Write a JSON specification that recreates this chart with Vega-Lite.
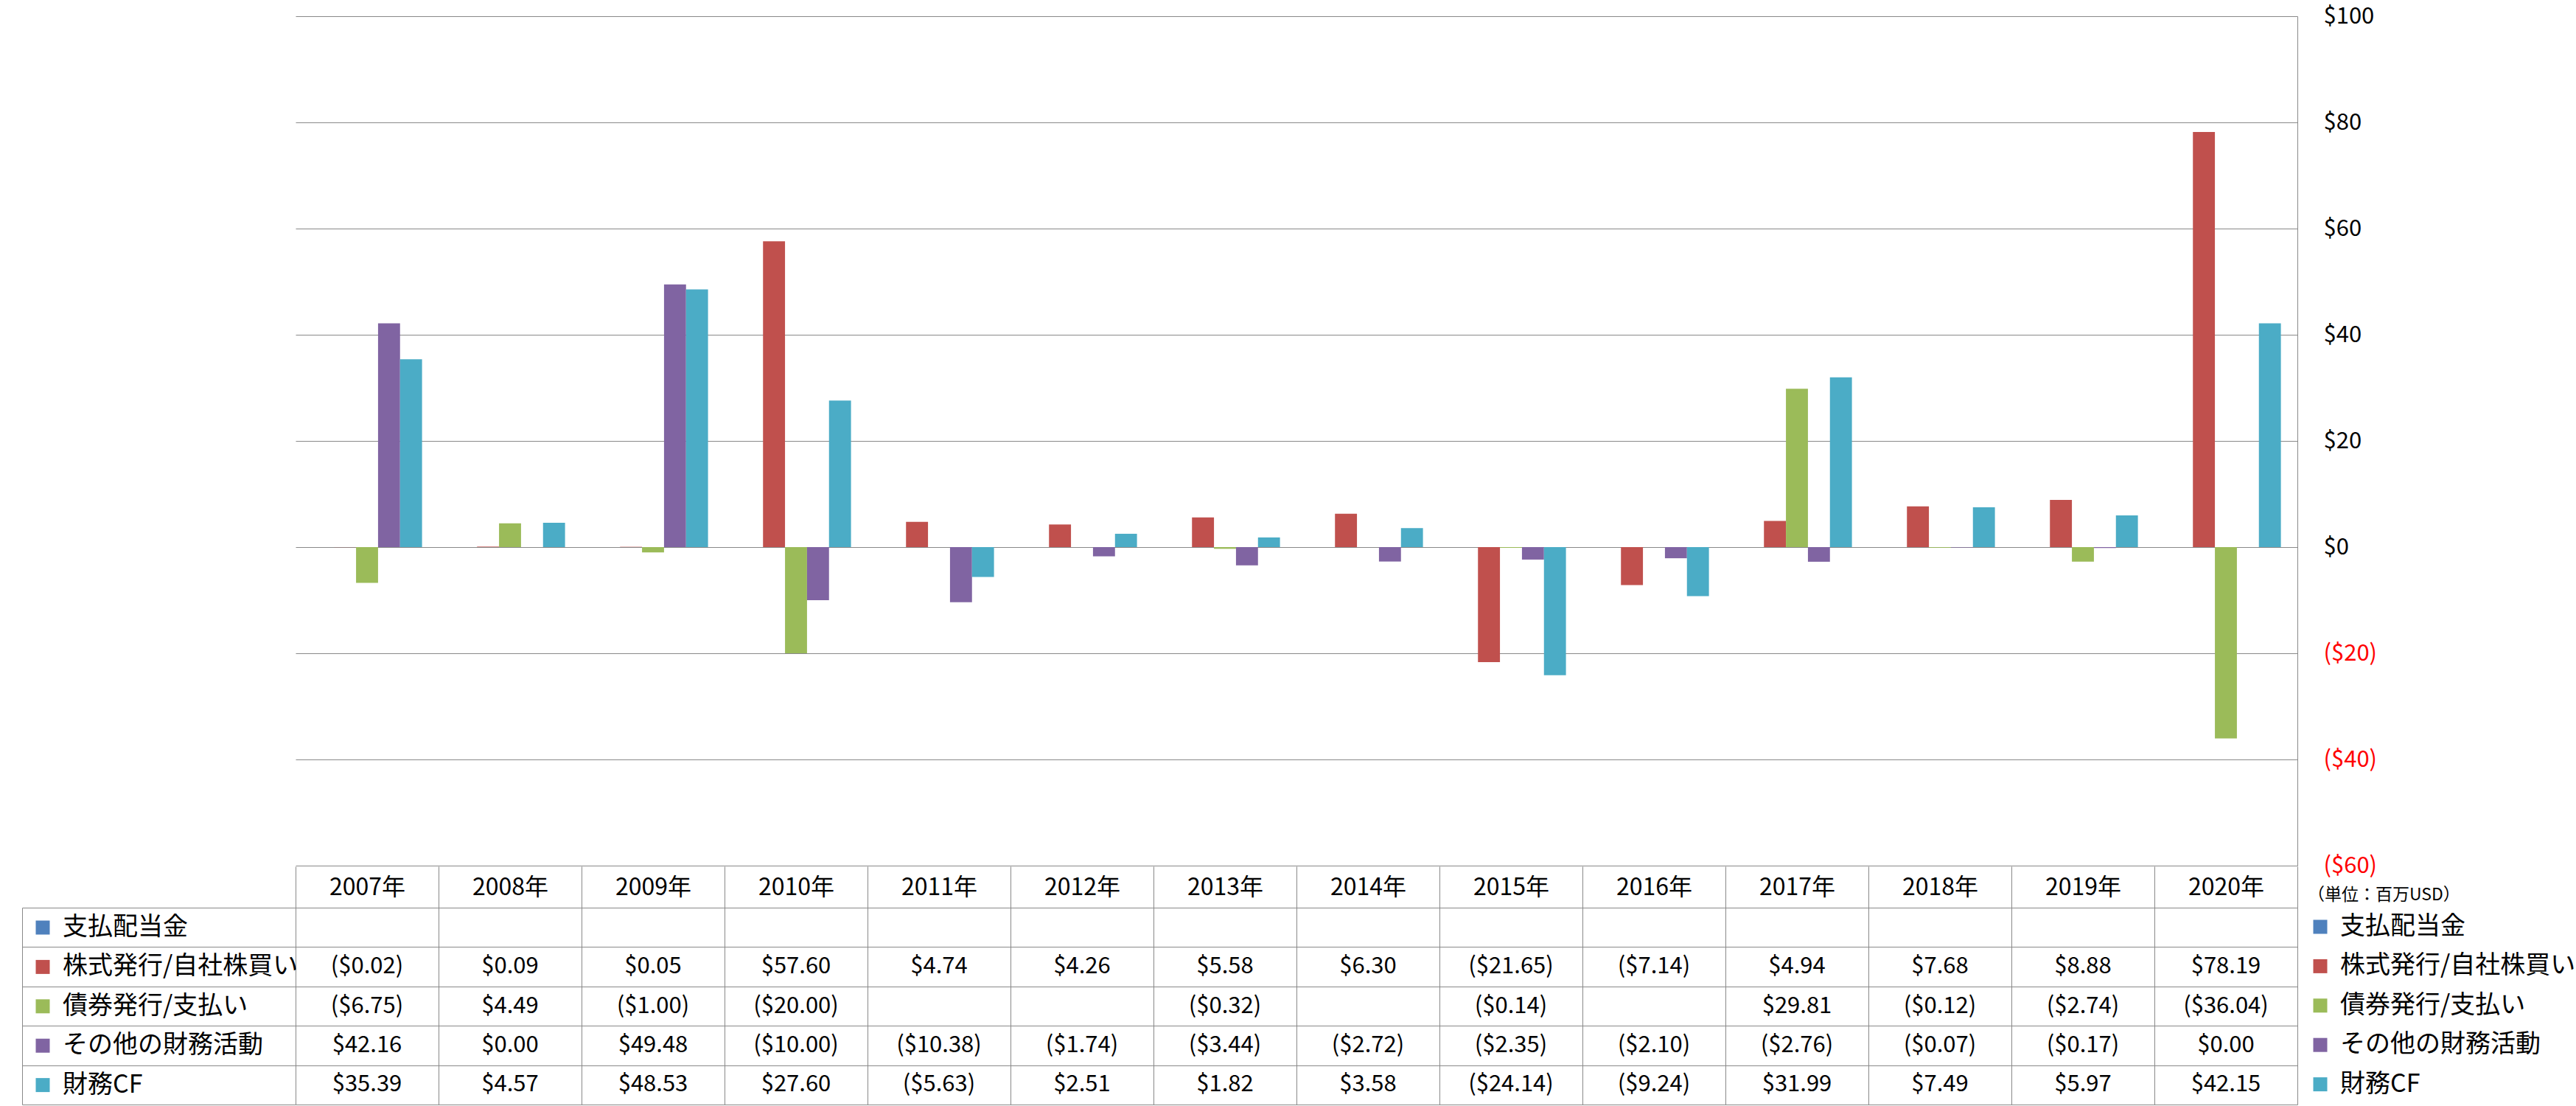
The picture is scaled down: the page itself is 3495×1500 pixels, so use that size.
{
  "$schema": "https://vega.github.io/schema/vega-lite/v6.json",
  "background": "white",
  "padding": {"left": 29, "top": 6, "right": 10, "bottom": 2},
  "autosize": {"type": "pad"},
  "config": {
    "view": {"stroke": null},
    "font": "Noto Sans CJK JP",
    "axis": {"labelFont": "Noto Sans CJK JP", "titleFont": "Noto Sans CJK JP"},
    "legend": {"labelFont": "Noto Sans CJK JP", "titleFont": "Noto Sans CJK JP"}
  },
  "datasets": {
    "cf": [
      {"year": "2007年", "series": "株式発行/自社株買い", "value": -0.02},
      {"year": "2008年", "series": "株式発行/自社株買い", "value": 0.09},
      {"year": "2009年", "series": "株式発行/自社株買い", "value": 0.05},
      {"year": "2010年", "series": "株式発行/自社株買い", "value": 57.60},
      {"year": "2011年", "series": "株式発行/自社株買い", "value": 4.74},
      {"year": "2012年", "series": "株式発行/自社株買い", "value": 4.26},
      {"year": "2013年", "series": "株式発行/自社株買い", "value": 5.58},
      {"year": "2014年", "series": "株式発行/自社株買い", "value": 6.30},
      {"year": "2015年", "series": "株式発行/自社株買い", "value": -21.65},
      {"year": "2016年", "series": "株式発行/自社株買い", "value": -7.14},
      {"year": "2017年", "series": "株式発行/自社株買い", "value": 4.94},
      {"year": "2018年", "series": "株式発行/自社株買い", "value": 7.68},
      {"year": "2019年", "series": "株式発行/自社株買い", "value": 8.88},
      {"year": "2020年", "series": "株式発行/自社株買い", "value": 78.19},
      {"year": "2007年", "series": "債券発行/支払い", "value": -6.75},
      {"year": "2008年", "series": "債券発行/支払い", "value": 4.49},
      {"year": "2009年", "series": "債券発行/支払い", "value": -1.00},
      {"year": "2010年", "series": "債券発行/支払い", "value": -20.00},
      {"year": "2013年", "series": "債券発行/支払い", "value": -0.32},
      {"year": "2015年", "series": "債券発行/支払い", "value": -0.14},
      {"year": "2017年", "series": "債券発行/支払い", "value": 29.81},
      {"year": "2018年", "series": "債券発行/支払い", "value": -0.12},
      {"year": "2019年", "series": "債券発行/支払い", "value": -2.74},
      {"year": "2020年", "series": "債券発行/支払い", "value": -36.04},
      {"year": "2007年", "series": "その他の財務活動", "value": 42.16},
      {"year": "2008年", "series": "その他の財務活動", "value": 0.00},
      {"year": "2009年", "series": "その他の財務活動", "value": 49.48},
      {"year": "2010年", "series": "その他の財務活動", "value": -10.00},
      {"year": "2011年", "series": "その他の財務活動", "value": -10.38},
      {"year": "2012年", "series": "その他の財務活動", "value": -1.74},
      {"year": "2013年", "series": "その他の財務活動", "value": -3.44},
      {"year": "2014年", "series": "その他の財務活動", "value": -2.72},
      {"year": "2015年", "series": "その他の財務活動", "value": -2.35},
      {"year": "2016年", "series": "その他の財務活動", "value": -2.10},
      {"year": "2017年", "series": "その他の財務活動", "value": -2.76},
      {"year": "2018年", "series": "その他の財務活動", "value": -0.07},
      {"year": "2019年", "series": "その他の財務活動", "value": -0.17},
      {"year": "2020年", "series": "その他の財務活動", "value": 0.00},
      {"year": "2007年", "series": "財務CF", "value": 35.39},
      {"year": "2008年", "series": "財務CF", "value": 4.57},
      {"year": "2009年", "series": "財務CF", "value": 48.53},
      {"year": "2010年", "series": "財務CF", "value": 27.60},
      {"year": "2011年", "series": "財務CF", "value": -5.63},
      {"year": "2012年", "series": "財務CF", "value": 2.51},
      {"year": "2013年", "series": "財務CF", "value": 1.82},
      {"year": "2014年", "series": "財務CF", "value": 3.58},
      {"year": "2015年", "series": "財務CF", "value": -24.14},
      {"year": "2016年", "series": "財務CF", "value": -9.24},
      {"year": "2017年", "series": "財務CF", "value": 31.99},
      {"year": "2018年", "series": "財務CF", "value": 7.49},
      {"year": "2019年", "series": "財務CF", "value": 5.97},
      {"year": "2020年", "series": "財務CF", "value": 42.15}
    ]
  },
  "bounds": "flush",
  "spacing": 57,
  "resolve": {"scale": {"color": "independent"}, "legend": {"color": "independent"}},
  "vconcat": [
    {
      "width": 2716,
      "height": 1152,
      "data": {"name": "cf"},
      "mark": {"type": "bar"},
      "encoding": {
        "x": {"field": "year", "type": "ordinal", "scale": {"paddingInner": 0, "paddingOuter": 0}, "axis": null},
        "xOffset": {"field": "series", "type": "nominal", "scale": {"domain": ["支払配当金", "株式発行/自社株買い", "債券発行/支払い", "その他の財務活動", "財務CF"], "paddingInner": 0, "paddingOuter": 0.75}},
        "y": {
          "field": "value", "type": "quantitative",
          "scale": {"domain": [-60, 100], "nice": false},
          "axis": {
            "orient": "right", "title": null,
            "values": [-60, -40, -20, 0, 20, 40, 60, 80, 100],
            "labelExpr": "datum.value < 0 ? '($' + abs(datum.value) + ')' : '$' + datum.value",
            "labelColor": {"condition": {"test": "datum.value < 0", "value": "#FF0000"}, "value": "#000000"},
            "labelFontSize": 31, "labelPadding": 35, "labelAlign": "left", "labelBaseline": "middle",
            "ticks": false, "domain": true, "domainColor": "#898989", "domainWidth": 1,
            "grid": true, "gridColor": "#898989", "gridWidth": 1, "gridOpacity": 1
          }
        },
        "color": {
          "field": "series", "type": "nominal",
          "scale": {"domain": ["支払配当金", "株式発行/自社株買い", "債券発行/支払い", "その他の財務活動", "財務CF"], "range": ["#4F81BD", "#C0504D", "#9BBB59", "#8064A2", "#4BACC6"]},
          "legend": {
            "orient": "none", "legendX": 2730, "legendY": 1181,
            "title": "（単位：百万USD）", "titleFontSize": 23, "titleFontWeight": "normal", "titleColor": "#000000", "titlePadding": 14, "titleLimit": 1000,
            "symbolType": "square", "symbolSize": 361, "symbolStrokeWidth": 0, "symbolOpacity": 1,
            "labelFontSize": 34, "labelColor": "#000000", "labelOffset": 10, "labelLimit": 0,
            "rowPadding": 19.4, "padding": 0
          }
        }
      }
    },
    {
      "width": 2716,
      "height": 267,
      "data": {"name": "cf"},
      "transform": [
        {"calculate": "datum.value < 0 ? '($' + format(-datum.value, '.2f') + ')' : '$' + format(datum.value, '.2f')", "as": "label"}
      ],
      "resolve": {"axis": {"y": "independent"}},
      "layer": [
        {
          "mark": {"type": "text", "fontSize": 31, "color": "#000000", "font": "Noto Sans CJK JP"},
          "encoding": {
            "x": {
              "field": "year", "type": "ordinal", "scale": {"paddingInner": 0, "paddingOuter": 0},
              "axis": {
                "orient": "top", "title": null, "tickBand": "extent", "tickSize": 56, "tickColor": "#898989", "tickWidth": 1,
                "labelFontSize": 32, "labelPadding": -28, "labelBaseline": "middle", "labelAngle": 0, "labelColor": "#000000",
                "domain": false, "grid": true, "gridColor": "#898989", "gridWidth": 1, "gridOpacity": 1
              }
            },
            "y": {
              "field": "series", "type": "nominal",
              "scale": {"domain": ["支払配当金", "株式発行/自社株買い", "債券発行/支払い", "その他の財務活動", "財務CF"], "paddingInner": 0, "paddingOuter": 0},
              "axis": {
                "orient": "left", "title": null, "tickBand": "extent", "tickSize": 371, "tickColor": "#898989", "tickWidth": 1,
                "labels": false, "domain": false, "grid": true, "gridColor": "#898989", "gridWidth": 1, "gridOpacity": 1
              }
            },
            "text": {"field": "label"}
          }
        },
        {
          "mark": {"type": "square", "opacity": 0, "size": 361, "filled": true},
          "encoding": {
            "x": {"field": "year", "type": "ordinal"},
            "y": {
              "field": "series", "type": "nominal",
              "axis": {"orient": "left", "title": null, "offset": 371, "labels": false, "ticks": false, "grid": false, "domain": true, "domainColor": "#898989", "domainWidth": 1}
            },
            "color": {
              "field": "series", "type": "nominal",
              "scale": {"domain": ["支払配当金", "株式発行/自社株買い", "債券発行/支払い", "その他の財務活動", "財務CF"], "range": ["#4F81BD", "#C0504D", "#9BBB59", "#8064A2", "#4BACC6"]},
              "legend": {
                "orient": "none", "legendX": -360, "legendY": 10,
                "title": null,
                "symbolType": "square", "symbolSize": 361, "symbolStrokeWidth": 0, "symbolOpacity": 1,
                "labelFontSize": 34, "labelColor": "#000000", "labelOffset": 10, "labelLimit": 0,
                "rowPadding": 19.4, "padding": 0
              }
            }
          }
        }
      ]
    }
  ]
}
